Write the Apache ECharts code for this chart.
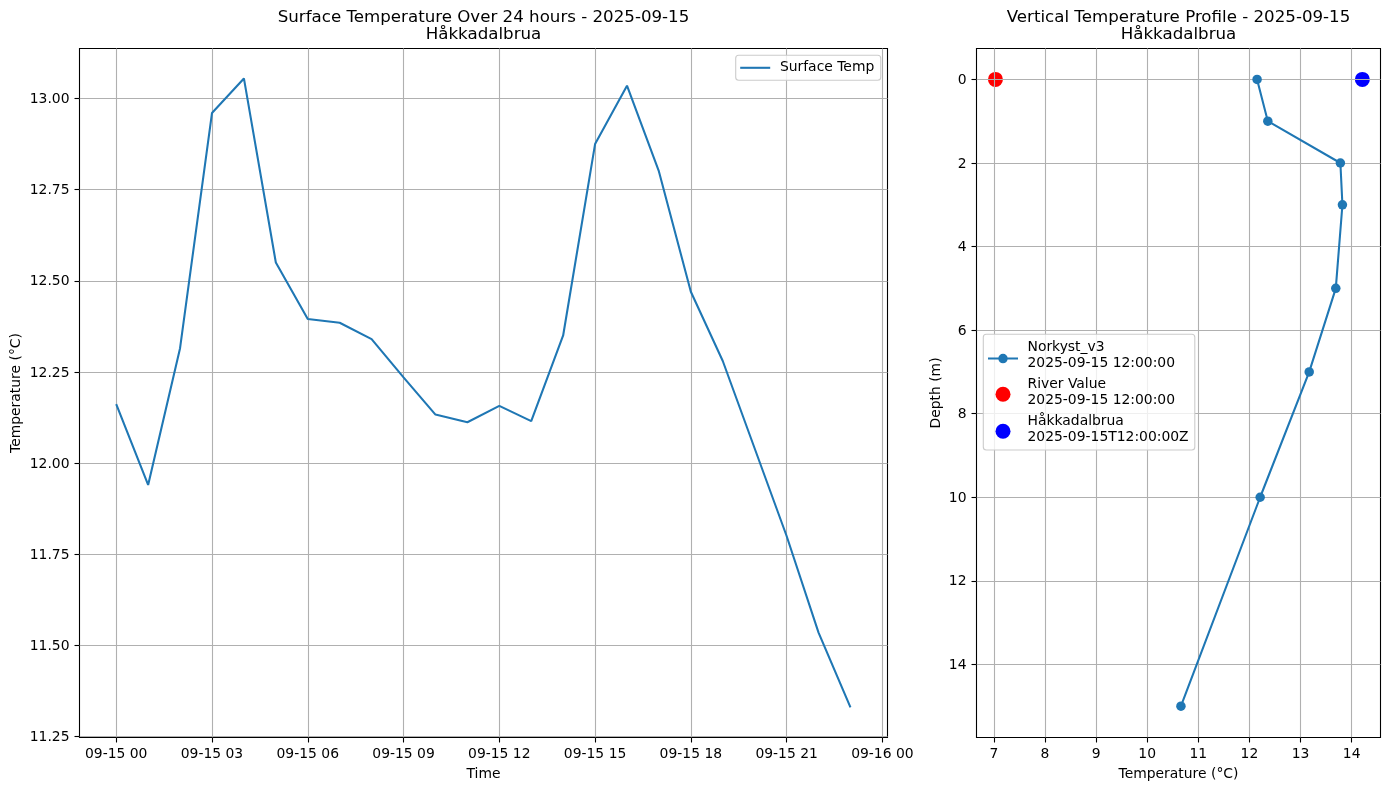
<!DOCTYPE html>
<html><head><meta charset="utf-8">
<style>html,body{margin:0;padding:0;background:#fff}#c{width:1389px;height:790px}</style>
<script src="https://cdn.jsdelivr.net/npm/echarts@6/dist/echarts.min.js"></script>
</head><body><div id="c"></div>
<script>
const hours = [0,1,2,3,4,5,6,7,8,9,10,11,12,13,14,15,16,17,18,19,20,21,22,23];
const surfaceTemp = [12.162,11.94,12.315,12.96,13.055,12.55,12.395,12.385,12.34,12.235,12.133,12.112,12.157,12.115,12.35,12.875,13.035,12.80,12.47,12.28,12.04,11.80,11.535,11.33];
const timeTicks = [0,3,6,9,12,15,18,21,24];
const timeLabels = ['09-15 00','09-15 03','09-15 06','09-15 09','09-15 12','09-15 15','09-15 18','09-15 21','09-16 00'];
const tempTicks = [11.25,11.5,11.75,12,12.25,12.5,12.75,13];
const depths = [0,1,2,3,5,7,10,15];
const profileTemp = [12.15,12.36,13.78,13.82,13.69,13.17,12.21,10.66];
const riverPoint = [[7.03,0]];
const stationPoint = [[14.21,0]];
const profileTempTicks = [7,8,9,10,11,12,13,14];
const depthTicks = [0,2,4,6,8,10,12,14];
const nameSurface = 'Surface Temp';
const nameProfile = 'Norkyst_v3\n2025-09-15 12:00:00';
const nameRiver = 'River Value\n2025-09-15 12:00:00';
const nameStation = 'Håkkadalbrua\n2025-09-15T12:00:00Z';

const FONT = 'DejaVu Sans';
const BLUE = '#1f77b4';
const lineMarkerIcon = 'path://M0 0M0 9.86H30V11.94H0Z M19.75 10.9A4.75 4.75 0 1 1 10.25 10.9A4.75 4.75 0 1 1 19.75 10.9Z';
const dotIcon = 'path://M7.5 0M15 10.9A7.5 7.5 0 1 1 0 10.9A7.5 7.5 0 1 1 15 10.9Z';
function axisBase(ticks, fmt, margin, labelExtra){
  return {
    type:'value', z:3, scale:true,
    axisLine:{show:false,onZero:false},
    axisTick:{show:true,customValues:ticks,length:5,lineStyle:{color:'#000',width:1.1}},
    axisLabel:Object.assign({customValues:ticks,formatter:fmt,color:'#000',fontFamily:FONT,fontSize:13.9,margin:margin,hideOverlap:false,showMinLabel:true,showMaxLabel:true},labelExtra),
    splitLine:{show:true,lineStyle:{color:'#b0b0b0',width:1.1}},
    nameLocation:'middle',
    nameTextStyle:{color:'#000',fontFamily:FONT,fontSize:13.9}
  };
}
const xLabelExtra = {padding:[2,0,0,0]};
const yLabelExtra = {verticalAlign:'top',lineHeight:2};
const gridBox = {show:true,outerBoundsMode:'none',containLabel:false,borderColor:'#000',borderWidth:1.1,backgroundColor:'#fff',top:48.5,height:689};
const legendBox = {orient:'vertical',itemWidth:30,backgroundColor:'rgba(255,255,255,0.8)',borderColor:'#cccccc',borderWidth:1.1,borderRadius:3};
const chart = echarts.init(document.getElementById('c'),null,{renderer:'canvas'});
chart.setOption({
  animation:false,
  backgroundColor:'#fff',
  title:[
    {text:'Surface Temperature Over 24 hours - 2025-09-15\nHåkkadalbrua',left:478.5,top:4,textAlign:'center',
     textStyle:{fontFamily:FONT,fontSize:16.67,fontWeight:'normal',color:'#000',lineHeight:17}},
    {text:'Vertical Temperature Profile - 2025-09-15\nHåkkadalbrua',left:1173.5,top:4,textAlign:'center',
     textStyle:{fontFamily:FONT,fontSize:16.67,fontWeight:'normal',color:'#000',lineHeight:17}}
  ],
  grid:[
    Object.assign({},gridBox,{left:79.5,width:808}),
    Object.assign({},gridBox,{left:976.5,width:404})
  ],
  xAxis:[
    Object.assign(axisBase(timeTicks,v=>timeLabels[timeTicks.indexOf(v)],8,xLabelExtra),{gridIndex:0,min:-1.15,max:24.16,name:'Time',nameGap:30}),
    Object.assign(axisBase(profileTempTicks,v=>String(v),8,xLabelExtra),{gridIndex:1,min:6.6595,max:14.565,name:'Temperature (°C)',nameGap:30})
  ],
  yAxis:[
    Object.assign(axisBase(tempTicks,v=>v.toFixed(2),10,yLabelExtra),{gridIndex:0,min:11.2473,max:13.1371,name:'Temperature (°C)',nameGap:56.5,nameMoveOverlap:false}),
    Object.assign(axisBase(depthTicks,v=>String(v),10,yLabelExtra),{gridIndex:1,min:-0.74,max:15.75,inverse:true,name:'Depth (m)',nameGap:33.5,nameMoveOverlap:false})
  ],
  legend:[
    Object.assign({},legendBox,{data:[{name:nameSurface,icon:'rect'}],left:735.7,top:55.3,itemHeight:2.08,itemGap:0,padding:[5.5,6.5,5.5,4.5],
     textStyle:{fontFamily:FONT,fontSize:13.9,color:'#000',padding:[0,0,0,4.7]}}),
    Object.assign({},legendBox,{data:[{name:nameProfile,icon:lineMarkerIcon},{name:nameRiver,icon:dotIcon},{name:nameStation,icon:dotIcon}],
     left:983.3,top:334.3,itemHeight:18.4,itemGap:5,padding:[5.2,6.2,4.5,4.7],
     textStyle:{fontFamily:FONT,fontSize:13.9,color:'#000',lineHeight:16,padding:[0,0,0,4.5]}})
  ],
  series:[
    {name:nameSurface,type:'line',xAxisIndex:0,yAxisIndex:0,z:5,showSymbol:false,symbol:'none',
     lineStyle:{color:BLUE,width:2.08},itemStyle:{color:BLUE},
     data:hours.map((h,i)=>[h,surfaceTemp[i]])},
    {name:nameProfile,type:'line',xAxisIndex:1,yAxisIndex:1,z:5,symbol:'circle',symbolSize:9.5,
     lineStyle:{color:BLUE,width:2.08},itemStyle:{color:BLUE},
     data:depths.map((d,i)=>[profileTemp[i],d])},
    {name:nameRiver,type:'scatter',xAxisIndex:1,yAxisIndex:1,z:2,symbol:'circle',symbolSize:15,itemStyle:{color:'#ff0000',opacity:1},data:riverPoint},
    {name:nameStation,type:'scatter',xAxisIndex:1,yAxisIndex:1,z:2,symbol:'circle',symbolSize:15,itemStyle:{color:'#0000ff',opacity:1},data:stationPoint}
  ]
});
</script></body></html>
